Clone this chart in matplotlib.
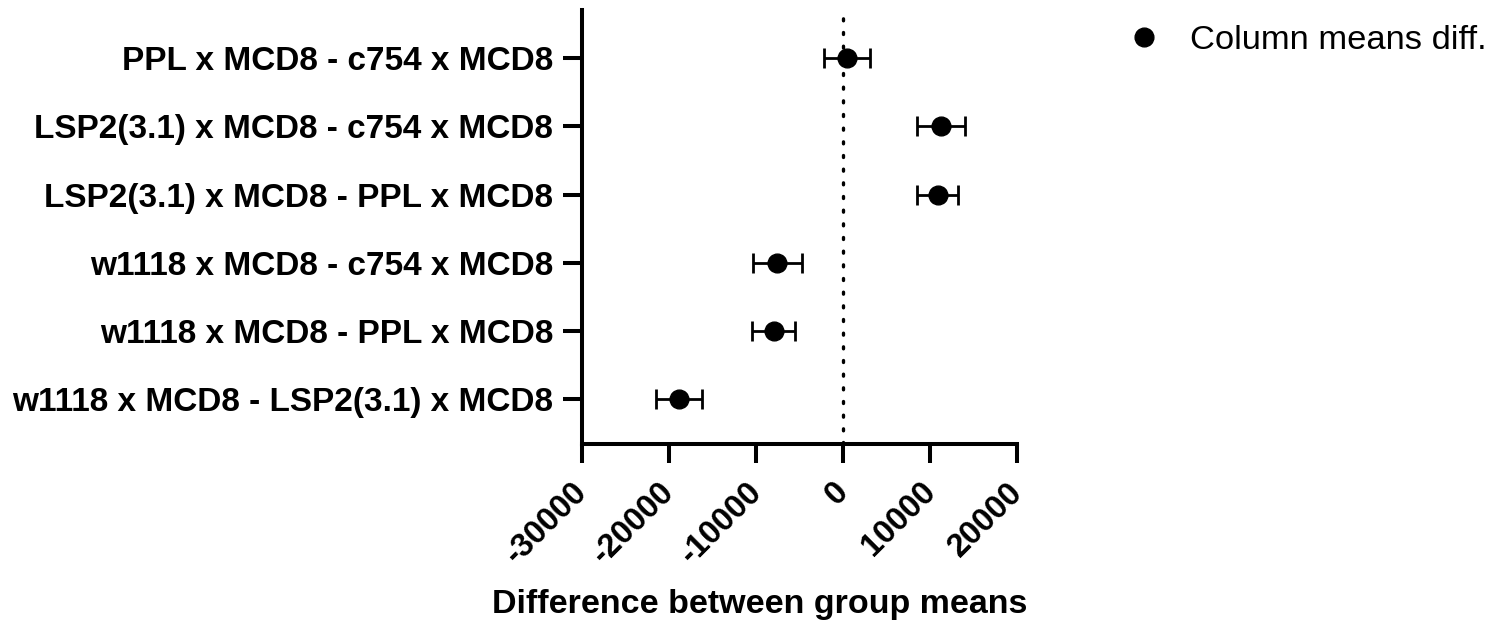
import matplotlib
matplotlib.use("Agg")
import matplotlib.pyplot as plt
from matplotlib.lines import Line2D
from matplotlib.transforms import ScaledTranslation

plt.rcParams['font.family'] = ['Liberation Sans', 'DejaVu Sans']

comparisons = [
    "PPL x MCD8 - c754 x MCD8",
    "LSP2(3.1) x MCD8 - c754 x MCD8",
    "LSP2(3.1) x MCD8 - PPL x MCD8",
    "w1118 x MCD8 - c754 x MCD8",
    "w1118 x MCD8 - PPL x MCD8",
    "w1118 x MCD8 - LSP2(3.1) x MCD8",
]
mean_diff = [450, 11240, 10850, -7570, -7980, -18800]
ci_low = [-2150, 8530, 8530, -10380, -10450, -21430]
ci_high = [3050, 13960, 13160, -4750, -5510, -16200]
xticks = [-30000, -20000, -10000, 0, 10000, 20000]

fig = plt.figure(figsize=(14.99, 6.22), dpi=100)
ax = fig.add_axes([0.388, 0.2862, 0.2907, 0.6977])

n = len(comparisons)
ypos = [n - 1 - i for i in range(n)]
xerr = [[m - l for m, l in zip(mean_diff, ci_low)],
        [h - m for m, h in zip(mean_diff, ci_high)]]

ax.axvline(0, color='black', lw=2.4, linestyle=(0, (0.6, 3.5)),
           dash_capstyle='round', zorder=1)
ax.errorbar(mean_diff, ypos, xerr=xerr, fmt='o', color='black', ms=13.5,
            elinewidth=2.0, capsize=7, capthick=2.0, zorder=3)

ax.set_xlim(-30000, 20000)
ax.set_ylim(-0.66, n - 1 + 0.709)
ax.set_xticks(xticks)
ax.set_xticklabels([str(t) for t in xticks], rotation=45, ha='right', va='top',
                   rotation_mode='anchor', fontsize=23.5, fontweight='bold')
ax.set_yticks(ypos)
ax.set_yticklabels(comparisons, fontsize=24, fontweight='bold')

for s in ['top', 'right']:
    ax.spines[s].set_visible(False)
for s in ['left', 'bottom']:
    ax.spines[s].set_linewidth(2.9)
ax.tick_params(axis='both', width=2.9, length=13.5, color='black')
ax.tick_params(axis='y', pad=7)
ax.tick_params(axis='x', pad=7)

offset = ScaledTranslation(-10 / 100, -4 / 100, fig.dpi_scale_trans)
for lbl in ax.get_xticklabels():
    lbl.set_transform(lbl.get_transform() + offset)

fig.text(760 / 1499, 1 - 604 / 622, "Difference between group means",
         fontsize=24.5, fontweight='bold', ha='center', va='center')

handle = Line2D([], [], marker='o', color='black', linestyle='none', ms=13.5)
fig.legend([handle], ["Column means diff."], loc='center left',
           bbox_to_anchor=(0.740, 0.935), frameon=False, fontsize=24.8,
           handletextpad=0.85, borderpad=0, handlelength=1.0)

fig.savefig("out.png", dpi=100)
